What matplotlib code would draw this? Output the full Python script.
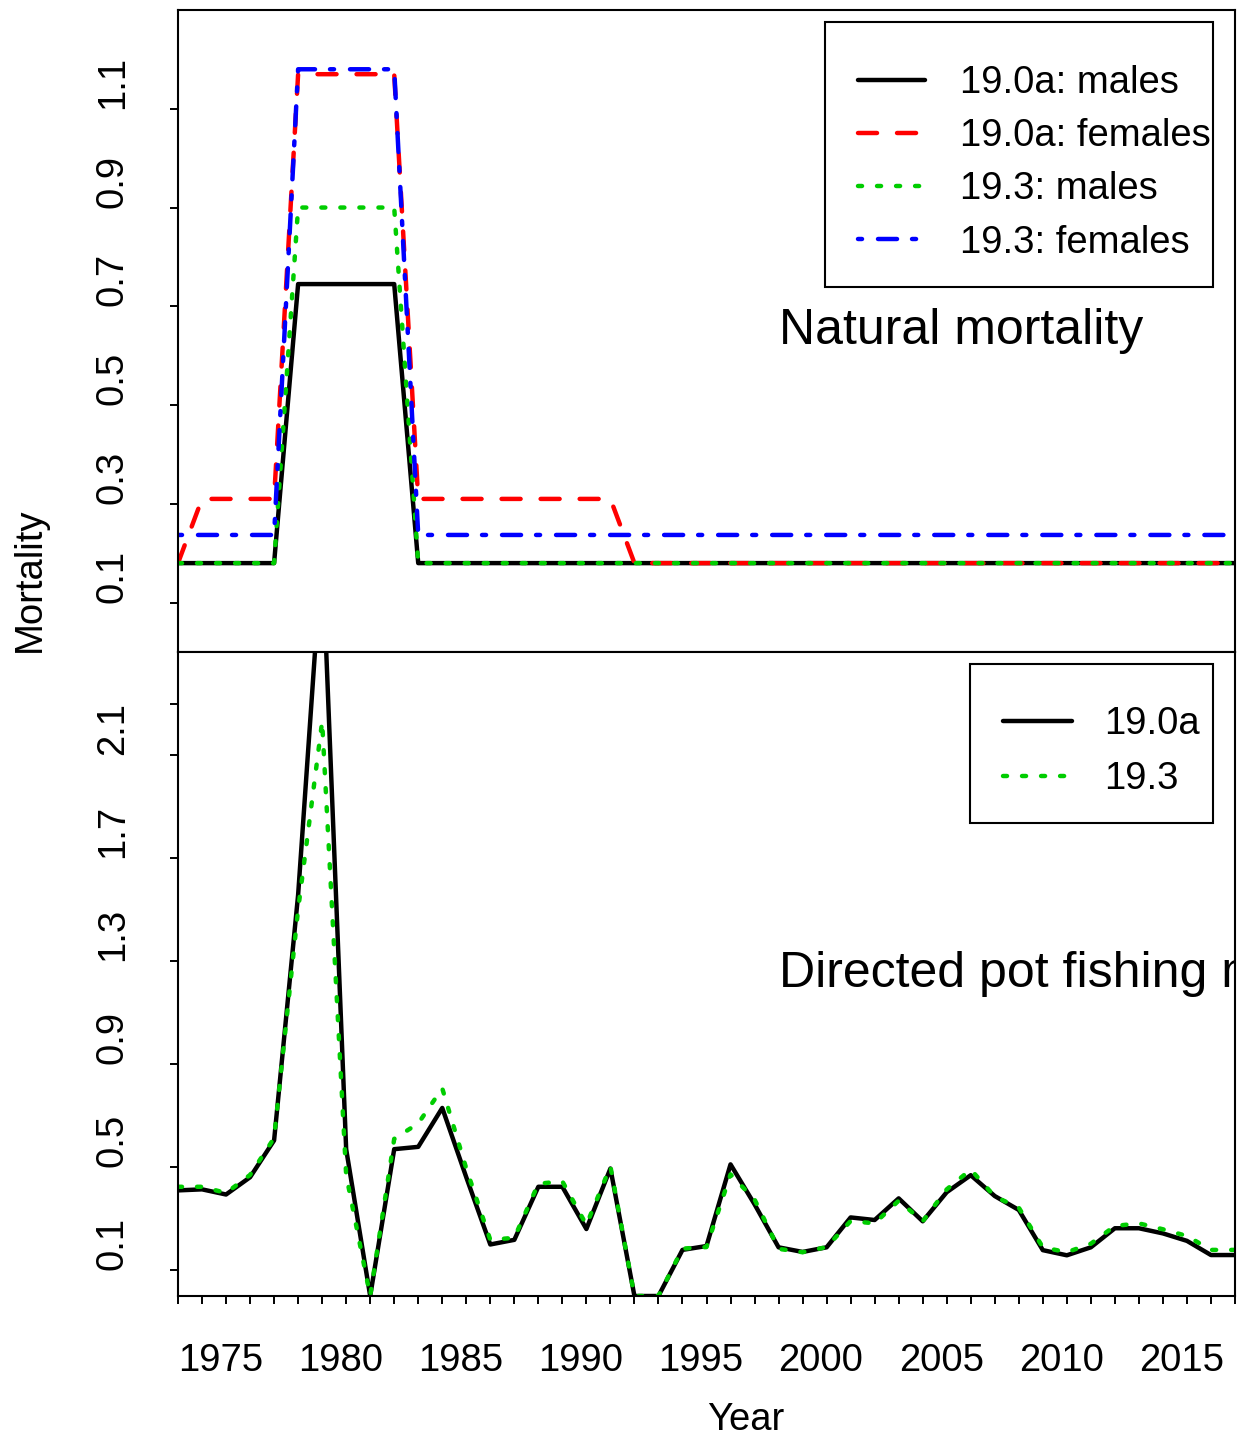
import matplotlib
matplotlib.use('Agg')
import matplotlib.pyplot as plt
from matplotlib.patches import Rectangle

plt.rcParams['font.family'] = ['Liberation Sans', 'DejaVu Sans']
plt.rcParams['lines.scale_dashes'] = False

years = list(range(1975, 2020))

# natural mortality, 1975-2019
m_males_190a = [0.18, 0.18, 0.18, 0.18, 0.18, 0.745, 0.745, 0.745, 0.745, 0.745,
                0.18, 0.18, 0.18, 0.18, 0.18, 0.18, 0.18, 0.18, 0.18, 0.18,
                0.18, 0.18, 0.18, 0.18, 0.18, 0.18, 0.18, 0.18, 0.18, 0.18,
                0.18, 0.18, 0.18, 0.18, 0.18, 0.18, 0.18, 0.18, 0.18, 0.18,
                0.18, 0.18, 0.18, 0.18, 0.18]
m_females_190a = [0.18, 0.31, 0.31, 0.31, 0.31, 1.17, 1.17, 1.17, 1.17, 1.17,
                  0.31, 0.31, 0.31, 0.31, 0.31, 0.31, 0.31, 0.31, 0.31, 0.18,
                  0.18, 0.18, 0.18, 0.18, 0.18, 0.18, 0.18, 0.18, 0.18, 0.18,
                  0.18, 0.18, 0.18, 0.18, 0.18, 0.18, 0.18, 0.18, 0.18, 0.18,
                  0.18, 0.18, 0.18, 0.18, 0.18]
m_males_193 = [0.18, 0.18, 0.18, 0.18, 0.18, 0.90, 0.90, 0.90, 0.90, 0.90,
               0.18, 0.18, 0.18, 0.18, 0.18, 0.18, 0.18, 0.18, 0.18, 0.18,
               0.18, 0.18, 0.18, 0.18, 0.18, 0.18, 0.18, 0.18, 0.18, 0.18,
               0.18, 0.18, 0.18, 0.18, 0.18, 0.18, 0.18, 0.18, 0.18, 0.18,
               0.18, 0.18, 0.18, 0.18, 0.18]
m_females_193 = [0.237, 0.237, 0.237, 0.237, 0.237, 1.18, 1.18, 1.18, 1.18, 1.18,
                 0.237, 0.237, 0.237, 0.237, 0.237, 0.237, 0.237, 0.237, 0.237, 0.237,
                 0.237, 0.237, 0.237, 0.237, 0.237, 0.237, 0.237, 0.237, 0.237, 0.237,
                 0.237, 0.237, 0.237, 0.237, 0.237, 0.237, 0.237, 0.237, 0.237, 0.237,
                 0.237, 0.237, 0.237, 0.237, 0.237]

# directed pot fishing mortality, 1975-2019
f_190a = [0.41, 0.414, 0.394, 0.461, 0.604, 1.557, 2.9, 0.57, 0.0, 0.57,
          0.579, 0.73, 0.461, 0.20, 0.218, 0.424, 0.424, 0.26, 0.495, 0.0,
          0.0, 0.179, 0.194, 0.511, 0.356, 0.189, 0.171, 0.189, 0.305, 0.295,
          0.379, 0.29, 0.403, 0.469, 0.388, 0.334, 0.178, 0.158, 0.189, 0.263,
          0.263, 0.243, 0.214, 0.159, 0.159]
f_193 = [0.424, 0.424, 0.40, 0.47, 0.613, 1.5, 2.23, 0.47, 0.0, 0.61,
         0.67, 0.806, 0.495, 0.218, 0.226, 0.436, 0.445, 0.276, 0.503, 0.0,
         0.0, 0.184, 0.19, 0.472, 0.375, 0.183, 0.17, 0.19, 0.291, 0.282,
         0.37, 0.29, 0.414, 0.491, 0.386, 0.343, 0.189, 0.17, 0.203, 0.272,
         0.282, 0.259, 0.233, 0.179, 0.179]

top_ticks = [0.1, 0.3, 0.5, 0.7, 0.9, 1.1]
bot_ticks = [0.1, 0.5, 0.9, 1.3, 1.7, 2.1]
year_ticks = [1975, 1980, 1985, 1990, 1995, 2000, 2005, 2010, 2015]

W, H = 1237, 1440
FS = 27.5
LW = 3.2
dashed = (0, (13.7, 14.4))
dotted = (0, (2.9, 10.8))
dotdash = (0, (2.9, 11.5, 13.7, 10.8))
green = '#00CD00'

fig = plt.figure(figsize=(W / 100, H / 100), dpi=100)
ax1 = fig.add_axes([178 / W, 1 - 652 / H, 1057 / W, 642 / H])
ax2 = fig.add_axes([178 / W, 1 - 1296 / H, 1057 / W, 644 / H])

style = dict(lw=LW, dash_capstyle='round', solid_capstyle='round',
             solid_joinstyle='round', dash_joinstyle='round')

# top: natural mortality
l1, = ax1.plot(years, m_males_190a, color='black', ls='-', **style)
l2, = ax1.plot(years, m_females_190a, color='red', ls=dashed, **style)
l3, = ax1.plot(years, m_males_193, color=green, ls=dotted, **style)
l4, = ax1.plot(years, m_females_193, color='blue', ls=dotdash, **style)
ax1.set_xlim(1975, 2019)
ax1.set_ylim(0, 1.3)
ax1.set_xticks([])
ax1.set_yticks(top_ticks, [str(v) for v in top_ticks], rotation=90, va='bottom')
ax1.text(2000, 0.65, 'Natural mortality', fontsize=36, ha='left', va='center',
         clip_on=True)

# bottom: directed pot fishing mortality
k1, = ax2.plot(years, f_190a, color='black', ls='-', **style)
k2, = ax2.plot(years, f_193, color=green, ls=dotted, **style)
ax2.set_xlim(1975, 2019)
ax2.set_ylim(0, 2.5)
ax2.set_xticks(year_ticks, [str(y) for y in year_ticks], ha='left')
ax2.set_xticks(years, minor=True)
ax2.set_yticks(bot_ticks, [str(v) for v in bot_ticks], rotation=90, va='bottom')
ax2.set_yticks([2.3], minor=True)
ax2.text(2000, 1.25, 'Directed pot fishing mortality', fontsize=36, ha='left',
         va='center', clip_on=True)

for ax in (ax1, ax2):
    for s in ax.spines.values():
        s.set_linewidth(1.5)
    ax.tick_params(which='both', direction='out', length=6, width=1.4,
                   labelsize=FS)
    ax.tick_params(axis='y', pad=28)
    ax.tick_params(axis='x', pad=28)

leg1 = ax1.legend([l1, l2, l3, l4],
                  ['19.0a: males', '19.0a: females', '19.3: males', '19.3: females'],
                  loc='upper left', bbox_to_anchor=(858 / W, 1 - 65 / H),
                  bbox_transform=fig.transFigure, frameon=False, fontsize=FS,
                  borderpad=0, borderaxespad=0, handlelength=1.75,
                  handletextpad=0.92, labelspacing=0.45)
fig.add_artist(Rectangle((825 / W, 1 - 287 / H), 388 / W, 265 / H,
                         transform=fig.transFigure, fill=False, ec='black', lw=1.5))

leg2 = ax2.legend([k1, k2], ['19.0a', '19.3'],
                  loc='upper left', bbox_to_anchor=(1003 / W, 1 - 706 / H),
                  bbox_transform=fig.transFigure, frameon=False, fontsize=FS,
                  borderpad=0, borderaxespad=0, handlelength=1.8,
                  handletextpad=0.86, labelspacing=0.51)
fig.add_artist(Rectangle((970 / W, 1 - 823 / H), 243 / W, 159 / H,
                         transform=fig.transFigure, fill=False, ec='black', lw=1.5))

fig.text(30 / W, 1 - 652 / H, 'Mortality', rotation=90, ha='center', va='bottom',
         fontsize=FS)
fig.text(707 / W, 1 - 1420 / H, 'Year', ha='left', va='center', fontsize=FS)

fig.savefig('out.png', dpi=100)
